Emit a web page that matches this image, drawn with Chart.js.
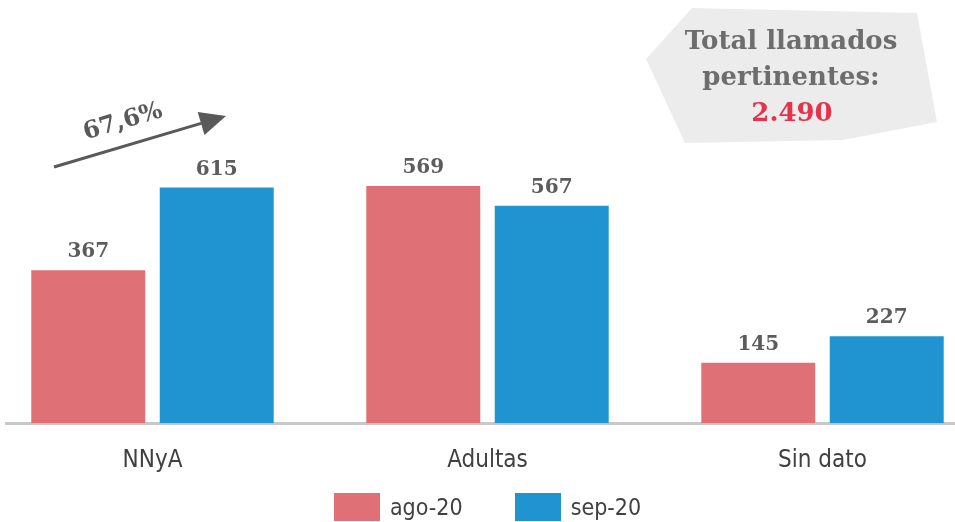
<!DOCTYPE html>
<html>
<head>
<meta charset="utf-8">
<script src="https://cdn.jsdelivr.net/npm/chart.js@4.4.0/dist/chart.umd.min.js"></script>
<style>
    html, body { margin: 0; padding: 0; background: #fff; }
    #wrap { position: relative; width: 955px; height: 522px; overflow: hidden; }
    #myBarChart { position: absolute; left: -15px; top: 0; }
    #legend { position: absolute; top: 493px; left: 10px; width: 955px; display: flex; justify-content: center;
              font-family: 'Liberation Sans Narrow', 'DejaVu Sans Condensed', sans-serif; font-size: 23px; color: #404040; }
    #legend .item { display: flex; align-items: center; height: 28px; margin: 0 26px; }
    #legend .box { width: 46px; height: 28px; margin-right: 10px; }
</style>
</head>
<body>
<div id="wrap">
    <canvas id="myBarChart" width="1005" height="498"></canvas>
    <div id="legend"></div>
</div>
<script>
// ===================== datos =====================
var labels = ['NNyA', 'Adultas', 'Sin dato'];
var ago20 = [367, 569, 145];
var sep20 = [615, 567, 227];
var seriesNames = ['ago-20', 'sep-20'];
var seriesColors = ['rgba(223, 112, 118, 1)', 'rgba(31, 148, 208, 1)'];

var slab = "'DejaVu Serif', serif";
var narrow = "'Liberation Sans Narrow', 'DejaVu Sans Condensed', sans-serif";
var OFFSET_X = 15; // canvas is shifted left inside the wrapper

var total = 0;
ago20.concat(sep20).forEach(function (v) { total += v; });

function numberWithDots(x) {
    return x.toString().replace(/\B(?=(\d{3})+(?!\d))/g, ".");
}
var variacion = ((sep20[0] / ago20[0] - 1) * 100).toFixed(1).replace('.', ',') + '%';

// labels, arrow and callout box
var extras = {
    id: 'extras',
    afterDatasetsDraw: function (chart) {
        var ctx = chart.ctx;
        ctx.save();
        ctx.font = "bold 20px " + slab;
        ctx.fillStyle = '#5c5c5c';
        ctx.textAlign = 'center';
        ctx.textBaseline = 'middle';
        chart.data.datasets.forEach(function (ds, i) {
            chart.getDatasetMeta(i).data.forEach(function (bar, j) {
                ctx.fillText(ds.data[j], bar.x, bar.y - 18);
            });
        });
        ctx.restore();

        ctx.save();
        ctx.translate(OFFSET_X, 0);

        // cover the axis line left of x=5
        ctx.fillStyle = '#fff';
        ctx.fillRect(-OFFSET_X, chart.chartArea.bottom - 3, OFFSET_X + 5, 6);

        // arrow
        var x1 = 54, y1 = 167, x2 = 226, y2 = 116;
        var a = Math.atan2(y2 - y1, x2 - x1);
        var headLen = 26, headW = 12;
        var bx = x2 - headLen * Math.cos(a), by = y2 - headLen * Math.sin(a);
        ctx.strokeStyle = '#595959';
        ctx.fillStyle = '#595959';
        ctx.lineWidth = 3;
        ctx.beginPath();
        ctx.moveTo(x1, y1);
        ctx.lineTo(bx, by);
        ctx.stroke();
        ctx.beginPath();
        ctx.moveTo(x2, y2);
        ctx.lineTo(bx + headW * Math.sin(a), by - headW * Math.cos(a));
        ctx.lineTo(bx - headW * Math.sin(a), by + headW * Math.cos(a));
        ctx.closePath();
        ctx.fill();

        ctx.save();
        ctx.translate(123, 122);
        ctx.rotate(a);
        ctx.font = "bold 24px " + slab;
        ctx.textAlign = 'center';
        ctx.textBaseline = 'middle';
        ctx.fillText(variacion, 0, 0);
        ctx.restore();

        // callout
        var pts = [[692, 8], [917, 13], [937, 122], [843, 140], [685, 143], [646, 59]];
        ctx.fillStyle = '#ececec';
        ctx.beginPath();
        pts.forEach(function (p, i) {
            if (i === 0) ctx.moveTo(p[0], p[1]); else ctx.lineTo(p[0], p[1]);
        });
        ctx.closePath();
        ctx.fill();

        ctx.font = "bold 26px " + slab;
        ctx.textAlign = 'center';
        ctx.textBaseline = 'middle';
        ctx.fillStyle = '#6d6d6d';
        ctx.fillText('Total llamados', 791, 42);
        ctx.fillText('pertinentes:', 791, 78);
        ctx.fillStyle = '#e6334c';
        ctx.fillText(numberWithDots(total), 792, 114);

        ctx.restore();
    }
};

var chart = new Chart(document.getElementById('myBarChart'), {
    type: 'bar',
    data: {
        labels: labels,
        datasets: [
            {
                label: seriesNames[0],
                backgroundColor: seriesColors[0],
                data: ago20,
                yAxisID: 'y'
            },
            {
                label: seriesNames[1],
                backgroundColor: seriesColors[1],
                data: sep20,
                yAxisID: 'y2'
            }
        ]
    },
    options: {
        responsive: false,
        animation: false,
        categoryPercentage: 0.767,
        barPercentage: 0.887,
        layout: { padding: { top: 123, left: 0, right: 0, bottom: 0 } },
        plugins: {
            legend: { display: false },
            tooltip: { enabled: false }
        },
        scales: {
            x: {
                grid: { display: false, drawTicks: false },
                border: { color: '#c8c8c8', width: 3 },
                ticks: { color: '#404040', padding: 23, font: { family: narrow, size: 24 } }
            },
            y: { display: false, min: 0, max: 720 },
            y2: { display: false, min: 0, max: 783 }
        }
    },
    plugins: [extras]
});

// legend built from the chart's datasets
var legendEl = document.getElementById('legend');
chart.data.datasets.forEach(function (ds) {
    var item = document.createElement('div');
    item.className = 'item';
    var box = document.createElement('span');
    box.className = 'box';
    box.style.background = ds.backgroundColor;
    item.appendChild(box);
    item.appendChild(document.createTextNode(ds.label));
    legendEl.appendChild(item);
});
</script>
</body>
</html>
